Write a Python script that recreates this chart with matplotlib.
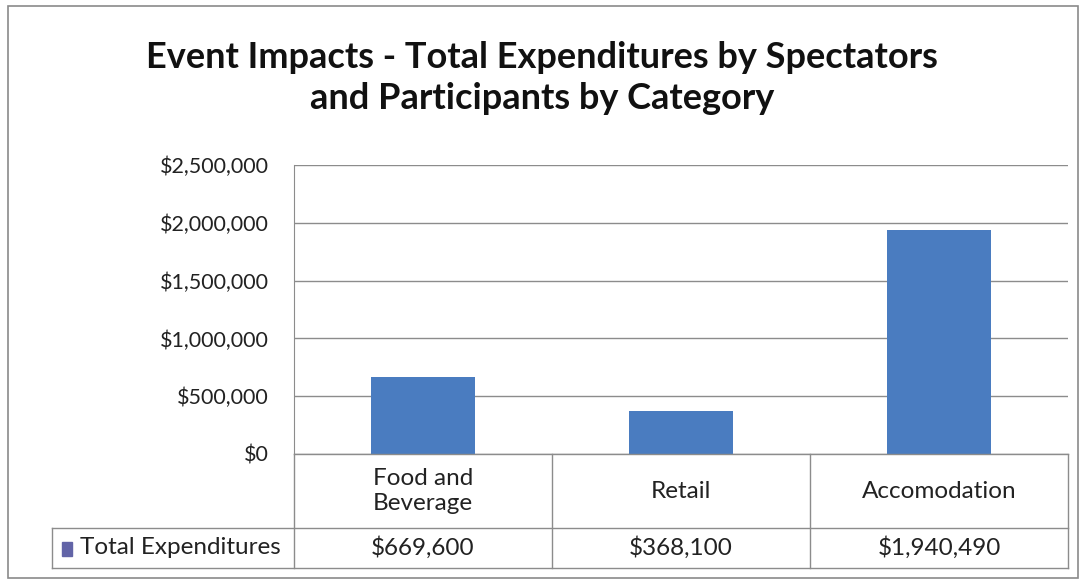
import matplotlib

matplotlib.use("Agg")
import matplotlib.pyplot as plt
from matplotlib.lines import Line2D
from matplotlib.patches import Rectangle
from matplotlib.ticker import FuncFormatter
import matplotlib.transforms as mtransforms

categories = ["Food and\nBeverage", "Retail", "Accomodation"]
totals = [669600, 368100, 1940490]
value_labels = ["$669,600", "$368,100", "$1,940,490"]
series_name = "Total Expenditures"

W, H = 1084, 582
FONT = "Lato"
GRID = "#8c8c8c"
BAR = "#4a7cc0"
TEXT = "#222222"


def fx(px):
    return px / W


def fy(py):
    return 1 - py / H


fig = plt.figure(figsize=(W / 100, H / 100), dpi=100)
fig.patch.set_facecolor("white")

# outer chart border
fig.add_artist(Rectangle((fx(8), fy(578)), fx(1078) - fx(8), fy(6) - fy(578),
                         transform=fig.transFigure, fill=False, edgecolor="#8a8a8a", lw=1.2))

fig.text(0.5, fy(78), "Event Impacts - Total Expenditures by Spectators\nand Participants by Category",
         ha="center", va="center", fontsize=26, fontweight="bold", family=FONT,
         linespacing=1.28, color="#111111")

ax = fig.add_axes([fx(294), fy(454), fx(1068) - fx(294), fy(165) - fy(454)])
x = list(range(len(categories)))
ax.bar(x, totals, width=0.4, color=BAR, zorder=3)
ax.set_xlim(-0.5, len(categories) - 0.5)
ax.set_ylim(0, 2500000)
ax.set_yticks(range(0, 2500001, 500000))
ax.yaxis.set_major_formatter(FuncFormatter(lambda v, _: f"${v:,.0f}"))
ax.set_xticks([])
ax.tick_params(axis="y", length=0, pad=18, labelsize=15.5, labelcolor=TEXT)
for lab in ax.get_yticklabels():
    lab.set_family(FONT)
ax.grid(axis="y", color=GRID, lw=1.0, zorder=0)
for side in ("top", "right", "bottom"):
    ax.spines[side].set_visible(False)
ax.spines["left"].set_color(GRID)

# data table under the plot
col_edges = [294, 552, 810, 1068]
rows = [454, 528, 568]
line_kw = dict(transform=fig.transFigure, color=GRID, lw=1.0)
fig.add_artist(Line2D([fx(294), fx(1068)], [fy(454), fy(454)], **line_kw))
for py in rows[1:]:
    fig.add_artist(Line2D([fx(52), fx(1068)], [fy(py), fy(py)], **line_kw))
for px in col_edges:
    fig.add_artist(Line2D([fx(px), fx(px)], [fy(454), fy(568)], **line_kw))
fig.add_artist(Line2D([fx(52), fx(52)], [fy(528), fy(568)], **line_kw))

trans = mtransforms.blended_transform_factory(ax.transData, fig.transFigure)
for i, (cat, lab) in enumerate(zip(categories, value_labels)):
    ax.text(i, fy(491), cat, transform=trans, ha="center", va="center",
            fontsize=17.5, family=FONT, color=TEXT, linespacing=1.25)
    ax.text(i, fy(548), lab, transform=trans, ha="center", va="center",
            fontsize=17.5, family=FONT, color=TEXT)

fig.add_artist(Rectangle((fx(62), fy(556)), fx(10), fy(542) - fy(556),
                         transform=fig.transFigure, color="#6264a7"))
fig.text(fx(80), fy(548), series_name, ha="left", va="center",
         fontsize=17.5, family=FONT, color=TEXT)

fig.savefig("out.png", dpi=100)
